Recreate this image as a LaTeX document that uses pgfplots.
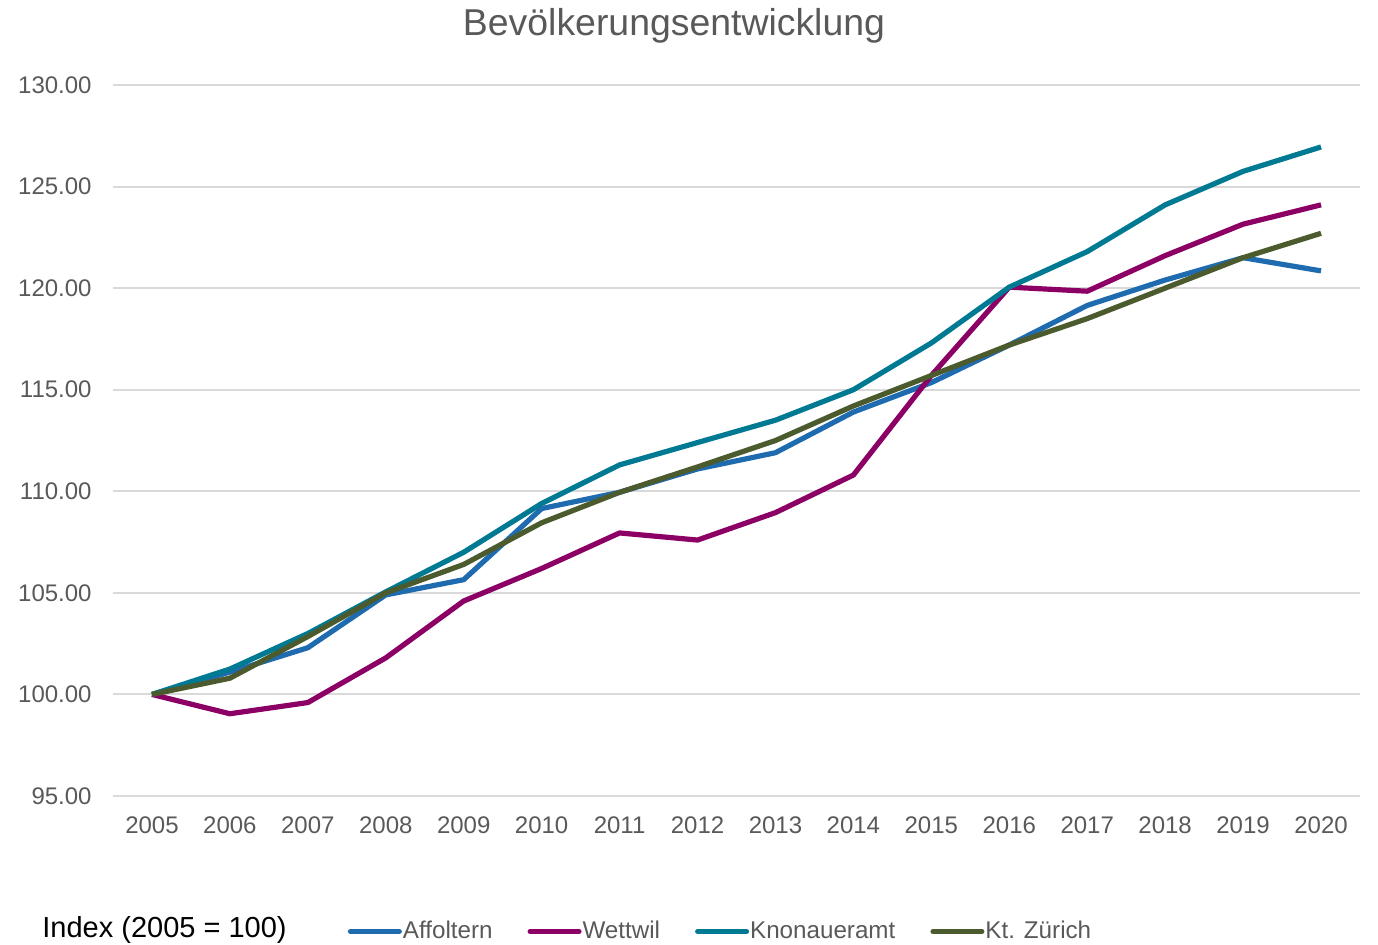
\documentclass[border=0pt]{standalone}
\usepackage{fontspec}
\setmainfont{Liberation Sans}
\usepackage{pgfplots}
\pgfplotsset{compat=1.18}
\definecolor{cAff}{HTML}{1F6BB0}
\definecolor{cWet}{HTML}{8C0066}
\definecolor{cKno}{HTML}{007A93}
\definecolor{cZh}{HTML}{4B5B2D}
\definecolor{txt}{HTML}{595959}
\definecolor{grd}{HTML}{D9D9D9}
\begin{document}
\begin{tikzpicture}[x=1pt,y=1pt]
\useasboundingbox (0,0) rectangle (689,-472);
\node[anchor=base, text=txt, font=\fontsize{18.7}{22}\selectfont, inner sep=0pt] at (337,-17.5) {Bevölkerungsentwicklung};
\node[anchor=base west, text=black, font=\fontsize{14.5}{17}\selectfont, inner sep=0pt] at (21,-468.5) {Index (2005 = 100)};
\begin{axis}[
  at={(56.5pt,-398pt)}, anchor=south west,
  scale only axis, width=623.5pt, height=355.5pt,
  xmin=2004.5, xmax=2020.5, ymin=95, ymax=130,
  xtick={2005,2006,...,2020}, ytick={95,100,...,130},
  /pgf/number format/assume math mode=true,
  axis line style={draw=none}, major tick style={draw=none},
  ymajorgrids, grid style={grd, line width=1pt},
  tick label style={text=txt, font=\fontsize{12}{14}\selectfont},
  xticklabel style={/pgf/number format/1000 sep={}, inner sep=0pt, anchor=north, yshift=-10pt},
  yticklabel style={/pgf/number format/.cd, fixed, fixed zerofill, precision=2, /tikz/.cd, inner sep=0pt, anchor=east, xshift=-10.5pt},
  legend style={at={(axis description cs:0.4868,-0.1905)}, anchor=center, draw=none, fill=none,
    font=\fontsize{12.1}{14}\selectfont, text=txt, column sep=0pt, nodes={inner sep=0.5pt},
    /tikz/every even column/.append style={column sep=17pt}},
  legend columns=-1,
  legend image code/.code={\draw[#1, line width=2.5pt, line cap=round] (0pt,0pt) -- (24.5pt,0pt);},
  every axis plot/.append style={line width=2.6pt, line join=round},
]
\addplot[cAff] coordinates {(2005,100) (2006,101.1) (2007,102.3) (2008,104.9) (2009,105.65) (2010,109.15) (2011,109.95) (2012,111.1) (2013,111.9) (2014,113.9) (2015,115.35) (2016,117.2) (2017,119.15) (2018,120.4) (2019,121.5) (2020,120.85)};
\addlegendentry{Affoltern}
\addplot[cWet] coordinates {(2005,100) (2006,99.05) (2007,99.6) (2008,101.8) (2009,104.6) (2010,106.2) (2011,107.95) (2012,107.6) (2013,108.95) (2014,110.8) (2015,115.7) (2016,120.05) (2017,119.85) (2018,121.6) (2019,123.15) (2020,124.1)};
\addlegendentry{Wettwil}
\addplot[cKno] coordinates {(2005,100) (2006,101.25) (2007,103.0) (2008,105.05) (2009,107.0) (2010,109.4) (2011,111.3) (2012,112.4) (2013,113.5) (2014,115.0) (2015,117.3) (2016,120.05) (2017,121.8) (2018,124.1) (2019,125.75) (2020,126.95)};
\addlegendentry{Knonaueramt}
\addplot[cZh] coordinates {(2005,100) (2006,100.8) (2007,102.85) (2008,105.0) (2009,106.4) (2010,108.45) (2011,109.95) (2012,111.2) (2013,112.5) (2014,114.2) (2015,115.7) (2016,117.2) (2017,118.5) (2018,120.0) (2019,121.5) (2020,122.7)};
\addlegendentry{Kt. Zürich}
\end{axis}
\end{tikzpicture}
\end{document}
